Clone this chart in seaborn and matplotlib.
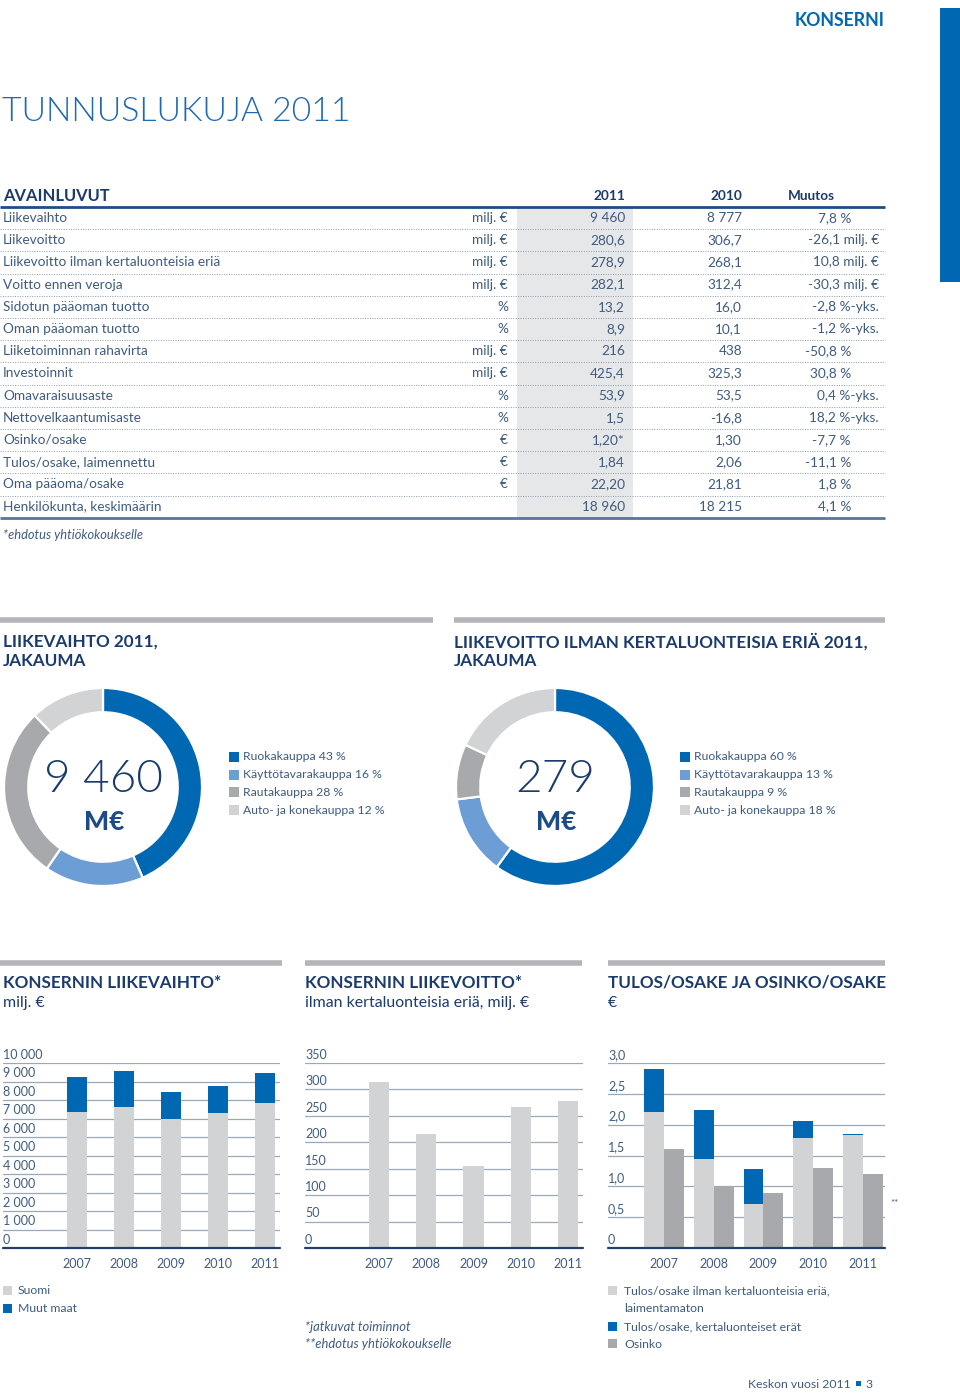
import matplotlib
matplotlib.use("Agg")
import matplotlib.pyplot as plt
from matplotlib.patches import Rectangle
import seaborn as sns
import pandas as pd

sns.set_style("white")
plt.rcParams['font.family'] = ['Lato', 'DejaVu Sans']

# ---------------- data ----------------
table_labels = ["Liikevaihto", "Liikevoitto", "Liikevoitto ilman kertaluonteisia eriä",
                "Voitto ennen veroja", "Sidotun pääoman tuotto", "Oman pääoman tuotto",
                "Liiketoiminnan rahavirta", "Investoinnit", "Omavaraisuusaste",
                "Nettovelkaantumisaste", "Osinko/osake", "Tulos/osake, laimennettu",
                "Oma pääoma/osake", "Henkilökunta, keskimäärin"]
table_units = ["milj. €", "milj. €", "milj. €", "milj. €", "%", "%", "milj. €", "milj. €",
               "%", "%", "€", "€", "€", ""]
table_2011 = ["9 460", "280,6", "278,9", "282,1", "13,2", "8,9", "216", "425,4", "53,9",
              "1,5", "1,20*", "1,84", "22,20", "18 960"]
table_2010 = ["8 777", "306,7", "268,1", "312,4", "16,0", "10,1", "438", "325,3", "53,5",
              "-16,8", "1,30", "2,06", "21,81", "18 215"]
table_change = ["7,8 %", "-26,1 milj. €", "10,8 milj. €", "-30,3 milj. €", "-2,8 %-yks.",
                "-1,2 %-yks.", "-50,8 %", "30,8 %", "0,4 %-yks.", "18,2 %-yks.", "-7,7 %",
                "-11,1 %", "1,8 %", "4,1 %"]

segments = ["Ruokakauppa", "Käyttötavarakauppa", "Rautakauppa", "Auto- ja konekauppa"]
sales_share = [43, 16, 28, 12]
profit_share = [60, 13, 9, 18]
sales_total = "9 460"
profit_total = "279"

years = ["2007", "2008", "2009", "2010", "2011"]
sales_finland = [7330, 7600, 6990, 7300, 7840]
sales_abroad = [1920, 1950, 1440, 1480, 1620]
sales_ticks = [0, 1000, 2000, 3000, 4000, 5000, 6000, 7000, 8000, 9000, 10000]
sales_ticklabels = ["0", "1 000", "2 000", "3 000", "4 000", "5 000", "6 000", "7 000",
                    "8 000", "9 000", "10 000"]
op_profit = [314, 216, 156, 267, 279]
profit_ticks = [0, 50, 100, 150, 200, 250, 300, 350]
profit_ticklabels = ["0", "50", "100", "150", "200", "250", "300", "350"]
eps_excl = [2.21, 1.44, 0.72, 1.78, 1.84]
eps_items = [0.70, 0.79, 0.56, 0.28, 0.01]
dividend = [1.60, 1.00, 0.90, 1.30, 1.20]
eps_ticks = [0, 0.5, 1.0, 1.5, 2.0, 2.5, 3.0]
eps_ticklabels = ["0", "0,5", "1,0", "1,5", "2,0", "2,5", "3,0"]

# ---------------- style ----------------
BLUE = "#0067b2"
LBLUE = "#6c9dd4"
MGREY = "#a7a9ac"
LGREY = "#d2d3d5"
NAVY = "#1c3b6d"
TXT = "#3f5c80"
SHADE = "#e6e7e8"
SECBAR = "#b3b5b8"
GRID = "#98a8b9"
HEAD = 12.3
TAB = 9.8

W, H = 960, 1393
fig = plt.figure(figsize=(W / 100, H / 100), dpi=100)
bg = fig.add_axes([0, 0, 1, 1])
bg.set_xlim(0, W)
bg.set_ylim(H, 0)
bg.axis('off')


def px_axes(x0, y0, x1, y1):
    return fig.add_axes([x0 / W, 1 - y1 / H, (x1 - x0) / W, (y1 - y0) / H])


def T(x, y, s, **kw):
    kw.setdefault('va', 'center')
    kw.setdefault('color', TXT)
    kw.setdefault('fontsize', 9)
    bg.text(x, y, s, **kw)


# ---------------- header ----------------
bg.add_patch(Rectangle((940, 8), 20, 274, color=BLUE, lw=0))
T(885, 20, "KONSERNI", ha='right', fontsize=12.8, fontweight='bold', color=BLUE)
T(2, 112, "TUNNUSLUKUJA 2011", fontsize=24.3, fontweight=300, color="#1f68b2")

# ---------------- table ----------------
T(3, 196, "AVAINLUVUT", fontsize=11.9, fontweight='bold', color=NAVY)
T(625, 196, "2011", ha='right', fontsize=9.8, fontweight='bold', color=NAVY)
T(742, 196, "2010", ha='right', fontsize=9.8, fontweight='bold', color=NAVY)
T(788, 196, "Muutos", ha='left', fontsize=9.8, fontweight='bold', color=NAVY)
row0, dy = 218, 22.2
bg.add_patch(Rectangle((517, 207), 116, 311, color=SHADE, lw=0, zorder=0))
bg.plot([0, 885], [207, 207], color="#1f4d84", lw=2, solid_capstyle='butt')
for i, lab in enumerate(table_labels):
    y = row0 + i * dy
    T(3, y, lab, fontsize=TAB)
    T(508, y, table_units[i], ha='right', fontsize=TAB)
    T(625, y, table_2011[i], ha='right', fontsize=TAB)
    T(742, y, table_2010[i], ha='right', fontsize=TAB)
    ch = table_change[i]
    T(851 if ch.endswith('%') else 879, y, ch, ha='right', fontsize=TAB)
    if i < len(table_labels) - 1:
        bg.plot([0, 885], [y + dy / 2, y + dy / 2], color="#8a9bb0", lw=0.7,
                linestyle=(0, (1, 1.5)))
bg.plot([0, 885], [518, 518], color="#5a7597", lw=2, solid_capstyle='butt')
T(3, 535, "*ehdotus yhtiökokoukselle", fontsize=9.3, style='italic')

# ---------------- donut section ----------------
bg.plot([0, 433], [620, 620], color=SECBAR, lw=4, solid_capstyle='butt')
bg.plot([454, 885], [620, 620], color=SECBAR, lw=4, solid_capstyle='butt')
T(3, 642, "LIIKEVAIHTO 2011,", fontsize=HEAD, fontweight='bold', color=NAVY)
T(3, 661, "JAKAUMA", fontsize=HEAD, fontweight='bold', color=NAVY)
T(454, 642, "LIIKEVOITTO ILMAN KERTALUONTEISIA ERIÄ 2011,", fontsize=HEAD,
  fontweight='bold', color=NAVY)
T(454, 661, "JAKAUMA", fontsize=HEAD, fontweight='bold', color=NAVY)

seg_colors = [BLUE, LBLUE, MGREY, LGREY]


def donut(x0, shares, total, legend_x):
    ax = px_axes(x0, 687, x0 + 200, 887)
    ax.pie(shares, colors=seg_colors, startangle=90, counterclock=False, radius=1,
           wedgeprops=dict(width=0.245, edgecolor='white', linewidth=1.6))
    ax.set_xlim(-1.01, 1.01)
    ax.set_ylim(-1.01, 1.01)
    ax.set_aspect('equal')
    ax.axis('off')
    cx = x0 + 100
    T(cx, 780, total, ha='center', fontsize=33, fontweight=300, color=NAVY)
    T(cx + 1, 822, "M€", ha='center', fontsize=19, fontweight=900, color="#1d4b88")
    for k, (name, sh) in enumerate(zip(segments, shares)):
        y = 757 + k * 17.7
        bg.add_patch(Rectangle((legend_x, y - 5), 10, 10, color=seg_colors[k], lw=0))
        T(legend_x + 14, y, f"{name} {sh} %", fontsize=8.8)


donut(3, sales_share, sales_total, 229)
donut(455, profit_share, profit_total, 680)

# ---------------- bar charts ----------------
for xa, xb in [(0, 282), (305, 582), (608, 885)]:
    bg.plot([xa, xb], [963, 963], color=SECBAR, lw=4, solid_capstyle='butt')
T(3, 983, "KONSERNIN LIIKEVAIHTO*", fontsize=HEAD, fontweight='bold', color=NAVY)
T(3, 1003, "milj. €", fontsize=11.4, color=NAVY)
T(305, 983, "KONSERNIN LIIKEVOITTO*", fontsize=HEAD, fontweight='bold', color=NAVY)
T(305, 1003, "ilman kertaluonteisia eriä, milj. €", fontsize=11.4, color=NAVY)
T(608, 983, "TULOS/OSAKE JA OSINKO/OSAKE", fontsize=HEAD, fontweight='bold', color=NAVY)
T(608, 1003, "€", fontsize=11.4, color=NAVY)


def style_axes(ax, ticks, labels, xlim):
    ax.set_xlim(*xlim)
    ax.set_ylim(ticks[0], ticks[-1])
    ax.set_yticks(ticks)
    ax.set_yticklabels([])
    ax.tick_params(axis='both', length=0)
    ax.tick_params(axis='x', pad=7, labelsize=9, labelcolor=TXT)
    ax.set_xlabel("")
    ax.set_ylabel("")
    ax.grid(axis='y', color=GRID, lw=0.9)
    ax.grid(axis='x', visible=False)
    ax.set_axisbelow(True)
    for s in ax.spines.values():
        s.set_visible(False)
    ax.axhline(0, color="#24406a", lw=1.6, zorder=5, clip_on=False)
    ax.patch.set_alpha(0)
    for t, l in zip(ticks, labels):
        ax.annotate(l, xy=(xlim[0], t), xytext=(0, 1.5), textcoords='offset points',
                    ha='left', va='bottom', fontsize=9, color=TXT,
                    annotation_clip=False)


# chart 1: net sales (stacked)
ax1 = px_axes(3, 1063, 280, 1248)
total_sales = [a + b for a, b in zip(sales_finland, sales_abroad)]
sns.barplot(x=years, y=total_sales, color=BLUE, width=0.425, saturation=1,
            linewidth=0, ax=ax1)
sns.barplot(x=years, y=sales_finland, color=LGREY, width=0.425, saturation=1,
            linewidth=0, ax=ax1)
style_axes(ax1, sales_ticks, sales_ticklabels, (-1.57, 4.32))

# chart 2: operating profit
ax2 = px_axes(305, 1063, 583, 1248)
sns.barplot(x=years, y=op_profit, color=LGREY, width=0.425, saturation=1,
            linewidth=0, ax=ax2)
style_axes(ax2, profit_ticks, profit_ticklabels, (-1.57, 4.32))

# chart 3: EPS and dividend (grouped, first group stacked)
ax3 = px_axes(608, 1063, 885, 1248)
eps_total = [a + b for a, b in zip(eps_excl, eps_items)]
df_top = pd.DataFrame({"year": years * 2,
                       "series": ["eps"] * 5 + ["div"] * 5,
                       "value": eps_total + dividend})
df_low = pd.DataFrame({"year": years * 2,
                       "series": ["eps"] * 5 + ["div"] * 5,
                       "value": eps_excl + dividend})
sns.barplot(data=df_top, x="year", y="value", hue="series", hue_order=["eps", "div"],
            palette=[BLUE, MGREY], width=0.8, saturation=1, linewidth=0, legend=False,
            ax=ax3)
sns.barplot(data=df_low, x="year", y="value", hue="series", hue_order=["eps", "div"],
            palette=[LGREY, MGREY], width=0.8, saturation=1, linewidth=0, legend=False,
            ax=ax3)
style_axes(ax3, eps_ticks, eps_ticklabels, (-1.13, 4.45))
T(890, 1204, "**", fontsize=7)

# legends / notes
bg.add_patch(Rectangle((3, 1286), 9, 9, color=LGREY, lw=0))
T(18, 1291, "Suomi", fontsize=8.8)
bg.add_patch(Rectangle((3, 1304), 9, 9, color=BLUE, lw=0))
T(18, 1309, "Muut maat", fontsize=8.8)

T(305, 1327, "*jatkuvat toiminnot", fontsize=9.4, style='italic')
T(305, 1344, "**ehdotus yhtiökokoukselle", fontsize=9.4, style='italic')

bg.add_patch(Rectangle((608, 1286), 9, 9, color=LGREY, lw=0))
T(624, 1291, "Tulos/osake ilman kertaluonteisia eriä,", fontsize=8.8)
T(624, 1309, "laimentamaton", fontsize=8.8)
bg.add_patch(Rectangle((608, 1322), 9, 9, color=BLUE, lw=0))
T(624, 1327, "Tulos/osake, kertaluonteiset erät", fontsize=8.8)
bg.add_patch(Rectangle((608, 1339), 9, 9, color=MGREY, lw=0))
T(624, 1344, "Osinko", fontsize=8.8)

T(851, 1384, "Keskon vuosi 2011", ha='right', fontsize=8.8)
bg.add_patch(Rectangle((856, 1381), 5, 5, color=BLUE, lw=0))
T(865, 1384, "3", fontsize=8.8)

fig.savefig("out.png", dpi=100)
